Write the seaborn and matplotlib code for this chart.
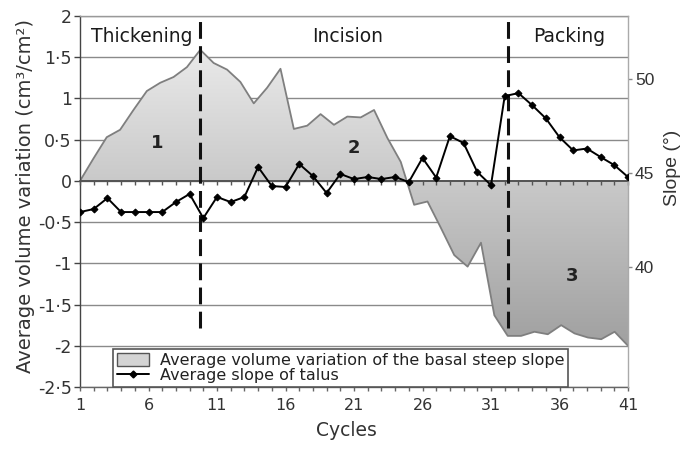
import numpy as np
import matplotlib
matplotlib.use('Agg')
import matplotlib.pyplot as plt
import seaborn as sns
from matplotlib.patches import Patch
from matplotlib.lines import Line2D
from matplotlib.colors import LinearSegmentedColormap
from matplotlib.ticker import FuncFormatter

# Average volume variation of the basal steep slope (42 readings, cm3/cm2)
volume = [0.0, 0.27, 0.53, 0.62, 0.86, 1.09, 1.19, 1.26, 1.38, 1.59,
          1.43, 1.35, 1.20, 0.94, 1.13, 1.36, 0.63, 0.67, 0.81, 0.68,
          0.78, 0.77, 0.86, 0.52, 0.23, -0.29, -0.25, -0.57, -0.90, -1.04,
          -0.75, -1.63, -1.88, -1.88, -1.83, -1.86, -1.75, -1.85, -1.90, -1.92,
          -1.83, -2.00]

# Average slope of talus (degrees), cycles 1..41
cycles = list(range(1, 42))
slope = [42.93, 43.09, 43.67, 42.93, 42.93, 42.93, 42.93, 43.46, 43.89, 42.61,
         43.73, 43.46, 43.73, 45.32, 44.31, 44.26, 45.48, 44.84, 43.94, 44.95,
         44.68, 44.79, 44.68, 44.79, 44.52, 45.80, 44.76, 46.96, 46.59, 45.05,
         44.36, 49.08, 49.24, 48.60, 47.90, 46.90, 46.20, 46.30, 45.85, 45.42,
         44.79]

# phases and their boundaries (index in the volume series)
phases = ['Thickening', 'Incision', 'Packing']
phase_x = [5.5, 20.5, 36.7]
boundaries = [9, 32]
regions = ['1', '2', '3']
region_x = [6.6, 21.0, 36.9]
region_y = [0.46, 0.40, -1.15]

x_labels = [1, 6, 11, 16, 21, 26, 31, 36, 41]
left_ticks = np.arange(-2.5, 2.01, 0.5)
right_ticks = [40, 45, 50]

sns.set_theme(style='white')
plt.rcParams['font.family'] = ['DejaVu Sans']

fig = plt.figure(figsize=(6.87, 4.49), dpi=100, facecolor='white')
ax = fig.add_axes([80/687, 1 - 387/449, 548/687, 371/449])
ax.set_facecolor('white')

vol_x = np.linspace(1, 41, len(volume))

# gridlines behind the area
ax.set_axisbelow(True)
ax.yaxis.grid(True, color='#8a8a8a', lw=1)
ax.xaxis.grid(False)

# gradient filled area
poly = ax.fill_between(vol_x, volume, 0, facecolor='none', edgecolor='none')
cmap = LinearSegmentedColormap.from_list('grey_grad', ['#969696', '#f2f2f2'])
grad = np.linspace(0, 1, 256).reshape(-1, 1)
img = ax.imshow(grad, extent=[1, 41, -2.5, 2], origin='lower', aspect='auto',
                cmap=cmap, zorder=1)
img.set_clip_path(poly.get_paths()[0], transform=ax.transData)
ax.plot(vol_x, volume, color='#7f7f7f', lw=1.3, zorder=1.2)

ax.set_xlim(1, 41)
ax.set_ylim(-2.5, 2)

# zero axis with small ticks at each cycle
ax.axhline(0, color='#555555', lw=1.3, zorder=2)
sec = ax.secondary_xaxis(0, transform=ax.transData)
sec.set_xticks(cycles)
sec.tick_params(axis='x', direction='out', length=3, width=1, color='#555555',
                labelbottom=False)
sec.spines['bottom'].set_color('#555555')
sec.set_zorder(2.5)

# phase boundaries
ax.vlines([vol_x[i] for i in boundaries], -1.78, 2, colors='#111111',
          linestyles=(0, (5.5, 2.4)), lw=2.2, zorder=3)

for name, px in zip(phases, phase_x):
    ax.text(px, 1.75, name, ha='center', va='center', fontsize=13.5, color='#1a1a1a')
for name, rx, ry in zip(regions, region_x, region_y):
    ax.text(rx, ry, name, ha='center', va='center', fontsize=13,
            fontweight='bold', color='#222222', zorder=4)

# left axis
ax.set_yticks(left_ticks)
ax.yaxis.set_major_formatter(FuncFormatter(lambda v, p: f'{v:g}'.replace('.', '·')))
ax.tick_params(axis='y', direction='out', length=4, width=1, color='#444444',
               labelsize=12.5, labelcolor='#333333', left=True, pad=2)
ax.set_xticks(x_labels)
ax.set_xticks(cycles, minor=True)
ax.tick_params(axis='x', which='both', direction='out', length=3, width=1,
               color='#666666', bottom=True, labelsize=11.5, labelcolor='#333333', pad=5)
ax.set_ylabel('Average volume variation (cm³/cm²)', fontsize=14, color='#333333')
ax.yaxis.set_label_coords(-0.083, 0.515)
ax.set_xlabel('Cycles', fontsize=13.5, color='#333333')
ax.xaxis.set_label_coords(0.487, -0.092)

ax.spines['left'].set_color('#444444')
ax.spines['bottom'].set_color('#666666')
ax.spines['top'].set_color('#999999')
ax.spines['right'].set_visible(False)
for s in ax.spines.values():
    s.set_linewidth(1)

# right axis: slope of talus
ax2 = ax.twinx()
sns.lineplot(x=cycles, y=slope, ax=ax2, color='black', lw=1.4, marker='D',
             markersize=3.5, markeredgecolor='black', zorder=5)
ax2.set_ylim(33.65, 53.33)
ax2.set_yticks(right_ticks)
ax2.tick_params(axis='y', direction='out', length=3, width=1, color='#888888',
                labelsize=12.5, labelcolor='#333333', right=True, pad=2)
for lab in ax2.get_yticklabels():
    lab.set_fontfamily('Liberation Sans')
ax2.set_ylabel('Slope (°)', fontsize=14, color='#333333', family='Liberation Sans')
ax2.yaxis.set_label_coords(1.066, 0.59)
for side in ['left', 'top', 'bottom']:
    ax2.spines[side].set_visible(False)
ax2.spines['right'].set_color('#aaaaaa')
ax2.spines['right'].set_linewidth(1)

handles = [Patch(facecolor='#d4d4d4', edgecolor='#555555', lw=1),
           Line2D([0], [0], color='black', lw=1.4, marker='D', markersize=3.5)]
labels = ['Average volume variation of the basal steep slope',
          'Average slope of talus']
leg = ax2.legend(handles, labels, loc='lower left', bbox_to_anchor=(0.06, 0.0),
                 frameon=True, fancybox=False, edgecolor='#555555', framealpha=1,
                 fontsize=11.5, borderpad=0.25, labelspacing=0.0,
                 handlelength=2.0, handleheight=0.8, handletextpad=0.7,
                 borderaxespad=0)
leg.get_frame().set_linewidth(1.2)
for t in leg.get_texts():
    t.set_color('#222222')

plt.savefig('out.png', dpi=100, facecolor='white')
